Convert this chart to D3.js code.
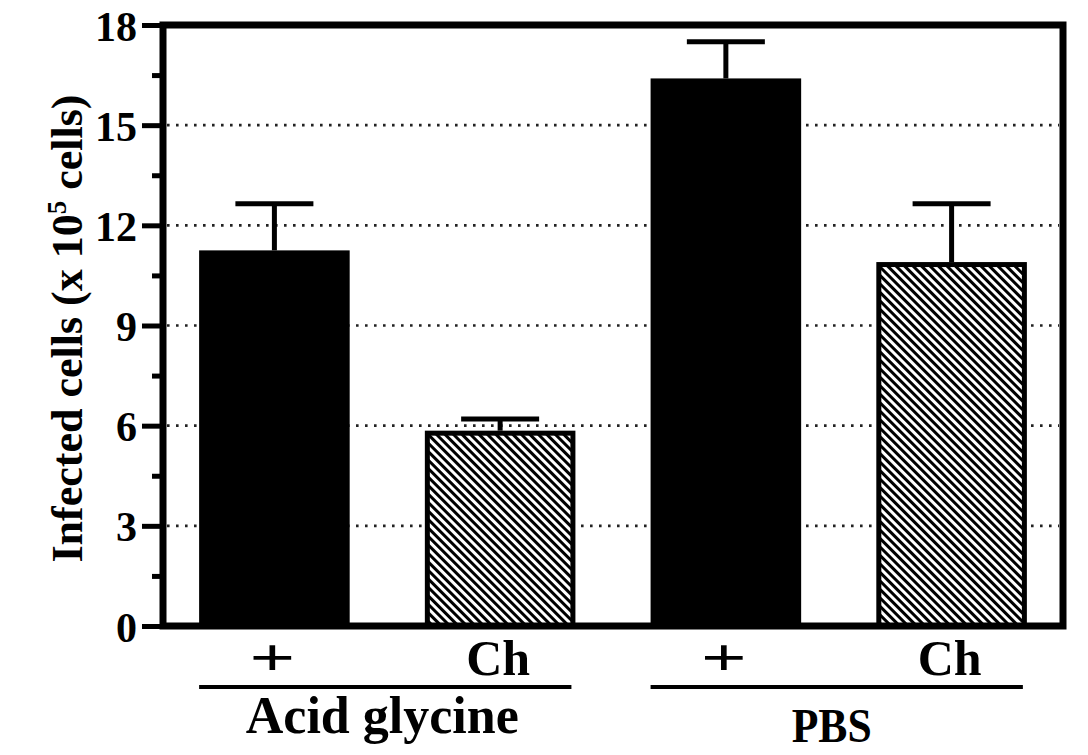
<!DOCTYPE html>
<html>
<head>
	<script src="https://d3js.org/d3.v7.min.js"></script>
	<meta charset="UTF-8">
	<style>
		body{
			margin: 0;
			background-color: #ffffff;
		}
		text{
			font-family: "Liberation Serif", "Times New Roman", serif;
			font-weight: bold;
			fill: #000;
		}
	</style>
</head>
<body>
	<div class='chart'></div>
	<script type="text/javascript">
		// data
		var bars = ["AG+", "AGCh", "PBS+", "PBSCh"];
		var barLabels = ["+", "Ch", "+", "Ch"];
		var hatched = [false, true, false, true];
		var means = [11.25, 5.85, 16.4, 10.9];
		var errors = [1.4, 0.35, 1.1, 1.75];
		var groups = ["Acid glycine", "PBS"];
		var groupBars = [["AG+", "AGCh"], ["PBS+", "PBSCh"]];
		var yTicks = [0, 3, 6, 9, 12, 15, 18];
		var yMinor = [1.5, 4.5, 7.5, 10.5, 13.5, 16.5];
		var gridTicks = [3, 6, 9, 12, 15];

		var W = 1088, H = 755;
		var l = 163, r = 1063, t = 25, b = 626;

		var svg = d3.select("div.chart")
					.append("svg")
					.attr("width", W)
					.attr("height", H);

		//hatch pattern
		var defs = svg.append("defs");
		var pat = defs.append("pattern")
					.attr("id", "hatch")
					.attr("patternUnits", "userSpaceOnUse")
					.attr("width", 6)
					.attr("height", 6)
					.attr("patternTransform", "rotate(-45)");
		pat.append("rect").attr("width", 6).attr("height", 6).attr("fill", "#fff");
		pat.append("line").attr("x1", 1.5).attr("y1", 0).attr("x2", 1.5).attr("y2", 6)
			.attr("stroke", "#000").attr("stroke-width", 3);

		var xScale = d3.scaleBand()
						.domain(bars)
						.range([l, r])
						.paddingInner(0.333)
						.paddingOuter(0.16);

		var yScale = d3.scaleLinear()
						.domain([0, 18])
						.range([b, t]);

		//dotted grid
		svg.selectAll("line.grid")
		   .data(gridTicks)
		   .enter()
		   .append("line")
		   .attr("class", "grid")
		   .attr("x1", l + 4)
		   .attr("x2", r - 4)
		   .attr("y1", function(d){ return yScale(d); })
		   .attr("y2", function(d){ return yScale(d); })
		   .attr("stroke", "#222")
		   .attr("stroke-width", 2.6)
		   .attr("stroke-dasharray", "2.6,6.4");

		//bars
		svg.selectAll("rect.bar")
		   .data(means)
		   .enter()
		   .append("rect")
		   .attr("class", "bar")
		   .attr("x", function(d, i){
		   		return xScale(bars[i]) + (hatched[i] ? 2.5 : 0);
		   })
		   .attr("y", function(d, i){
		   		return yScale(d) + (hatched[i] ? 2.5 : 0);
		   })
		   .attr("width", function(d, i){
		   		return xScale.bandwidth() - (hatched[i] ? 5 : 0);
		   })
		   .attr("height", function(d, i){
		   		return b - yScale(d) - (hatched[i] ? 2.5 : 0);
		   })
		   .attr("fill", function(d, i){
		   		return hatched[i] ? "url(#hatch)" : "#000";
		   })
		   .attr("stroke", "#000")
		   .attr("stroke-width", function(d, i){ return hatched[i] ? 5 : 0; });

		//error bars
		var capW = 78;
		svg.selectAll("line.stem")
		   .data(means)
		   .enter()
		   .append("line")
		   .attr("class", "stem")
		   .attr("x1", function(d, i){ return xScale(bars[i]) + xScale.bandwidth()/2; })
		   .attr("x2", function(d, i){ return xScale(bars[i]) + xScale.bandwidth()/2; })
		   .attr("y1", function(d){ return yScale(d); })
		   .attr("y2", function(d, i){ return yScale(d + errors[i]); })
		   .attr("stroke", "#000")
		   .attr("stroke-width", 5);
		svg.selectAll("line.cap")
		   .data(means)
		   .enter()
		   .append("line")
		   .attr("class", "cap")
		   .attr("x1", function(d, i){ return xScale(bars[i]) + xScale.bandwidth()/2 - capW/2; })
		   .attr("x2", function(d, i){ return xScale(bars[i]) + xScale.bandwidth()/2 + capW/2; })
		   .attr("y1", function(d, i){ return yScale(d + errors[i]); })
		   .attr("y2", function(d, i){ return yScale(d + errors[i]); })
		   .attr("stroke", "#000")
		   .attr("stroke-width", 5);

		//frame
		svg.append("rect")
		   .attr("x", l).attr("y", t)
		   .attr("width", r - l).attr("height", b - t)
		   .attr("fill", "none")
		   .attr("stroke", "#000")
		   .attr("stroke-width", 7);

		//y axis
		var yAxis = d3.axisLeft(yScale).tickValues(yTicks).tickSize(21).tickPadding(5);
		var gy = svg.append("g").attr("transform", "translate(" + l + ",0)").call(yAxis);
		gy.select(".domain").remove();
		gy.selectAll(".tick line").attr("stroke-width", 5);
		gy.selectAll(".tick text")
		  .attr("font-family", null)
		  .attr("dy", "0.36em")
		  .style("font-size", "42px");

		var yAxisMinor = d3.axisLeft(yScale).tickValues(yMinor).tickSize(11).tickFormat("");
		var gm = svg.append("g").attr("transform", "translate(" + l + ",0)").call(yAxisMinor);
		gm.select(".domain").remove();
		gm.selectAll(".tick line").attr("stroke-width", 5);

		//y title
		var yt = svg.append("text")
		   .attr("transform", "translate(82," + ((t + b)/2 + 3) + ") rotate(-90)")
		   .attr("text-anchor", "middle")
		   .style("font-size", "44px");
		yt.append("tspan").text("Infected cells (x 10");
		yt.append("tspan").attr("dy", -16).style("font-size", "27px").text("5");
		yt.append("tspan").attr("dy", 16).text(" cells)");

		//bar labels
		svg.selectAll("text.blab")
		   .data(barLabels)
		   .enter()
		   .append("text")
		   .attr("class", "blab")
		   .attr("text-anchor", "middle")
		   .attr("transform", function(d, i){
		   		var cx = xScale(bars[i]) + xScale.bandwidth()/2 - 2;
		   		return d == "+" ? "translate(" + cx + ",675) scale(1.62,1.04)" : "translate(" + cx + ",675)";
		   })
		   .style("font-size", "50px")
		   .text(function(d){ return d; });

		//group lines and labels
		groups.forEach(function(g, k){
			var x0 = xScale(groupBars[k][0]);
			var x1 = xScale(groupBars[k][1]) + xScale.bandwidth();
			svg.append("line")
			   .attr("x1", x0).attr("x2", x1 - 4)
			   .attr("y1", 687).attr("y2", 687)
			   .attr("stroke", "#000")
			   .attr("stroke-width", 4);
			var gt = svg.append("text")
			   .attr("text-anchor", "middle")
			   .attr("x", (x0 + x1)/2 + (k == 0 ? -5 : -7))
			   .attr("y", k == 0 ? 733 : 742)
			   .style("font-size", k == 0 ? "52px" : "48px")
			   .text(g);
			if(k == 1) gt.attr("textLength", 80).attr("lengthAdjust", "spacingAndGlyphs");
		});
	</script>
</body>
</html>
